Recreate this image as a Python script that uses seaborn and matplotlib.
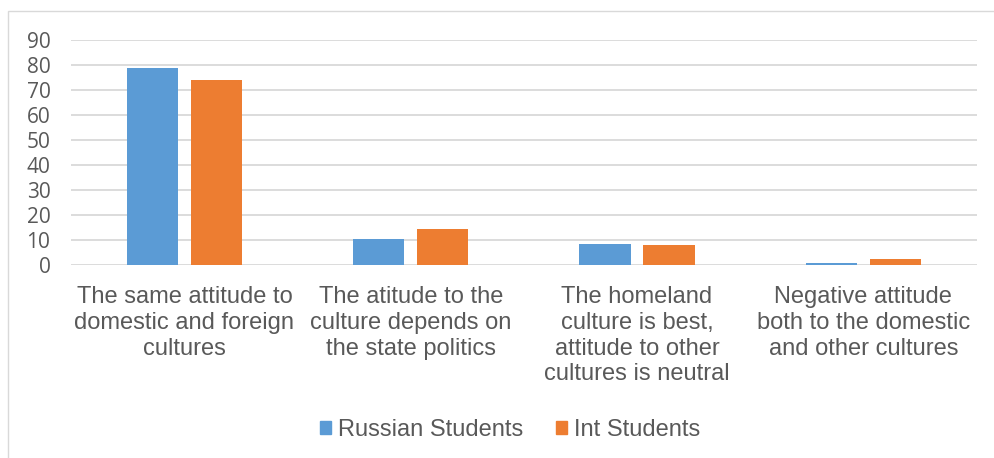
import matplotlib
matplotlib.use("Agg")
import matplotlib.pyplot as plt
from matplotlib.patches import Rectangle
import seaborn as sns
import pandas as pd

# Du lieu doc tu hinh
categories = [
    "The same attitude to\ndomestic and foreign\ncultures",
    "The atitude to the\nculture depends on\nthe state politics",
    "The homeland\nculture is best,\nattitude to other\ncultures is neutral",
    "Negative attitude\nboth to the domestic\nand other cultures",
]
russian = [79, 10.7, 8.6, 0.9]
international = [74, 14.5, 8.1, 2.4]
series_names = ["Russian Students", "Int Students"]
y_ticks = [0, 10, 20, 30, 40, 50, 60, 70, 80, 90]

df = pd.DataFrame({
    "category": categories * 2,
    "value": russian + international,
    "group": [series_names[0]] * 4 + [series_names[1]] * 4,
})

sns.set_theme(style="white")
plt.rcParams['font.family'] = ['Liberation Sans', 'DejaVu Sans']

text_color = "#595959"
grid_color = "#D9D9D9"
palette = {series_names[0]: "#5B9BD5", series_names[1]: "#ED7D31"}

fig = plt.figure(figsize=(9.94, 4.58), dpi=100)
ax = fig.add_axes([0.0717, 0.4207, 0.9107, 0.492])

sns.barplot(data=df, x="category", y="value", hue="group", palette=palette,
            width=0.566, gap=0.2, ax=ax, saturation=1, legend=False,
            edgecolor="none", linewidth=0, zorder=3)

ax.set_ylim(0, 90)
ax.set_yticks(y_ticks)
ax.set_xlim(-0.5, 3.5)
ax.set_xlabel("")
ax.set_ylabel("")

# Luoi ngang
ax.yaxis.grid(True, color=grid_color, linewidth=1.3)
ax.set_axisbelow(True)
for s in ax.spines.values():
    s.set_visible(False)

ax.tick_params(axis="y", length=0, pad=15, labelsize=15, labelcolor=text_color)
for lbl in ax.get_yticklabels():
    lbl.set_fontfamily(["Open Sans", "DejaVu Sans"])
ax.tick_params(axis="x", length=0, pad=15, labelsize=17, labelcolor=text_color)
for lbl in ax.get_xticklabels():
    lbl.set_linespacing(1.22)
    lbl.set_multialignment("center")

# Chu thich
handles = [Rectangle((0, 0), 1, 1, color=palette[n]) for n in series_names]
fig.legend(handles, series_names, loc="center", bbox_to_anchor=(510 / 994, 0.062),
           ncol=2, frameon=False, fontsize=17, handlelength=0.45, handleheight=0.45,
           handletextpad=0.3, columnspacing=1.4, labelcolor=text_color)

# Khung bieu do
fig.patches.append(Rectangle((8 / 994, -0.1), 1.2, (458 - 11) / 458 + 0.1,
                             transform=fig.transFigure, fill=False,
                             edgecolor=grid_color, linewidth=1.0))

fig.savefig("out.png", dpi=100)
